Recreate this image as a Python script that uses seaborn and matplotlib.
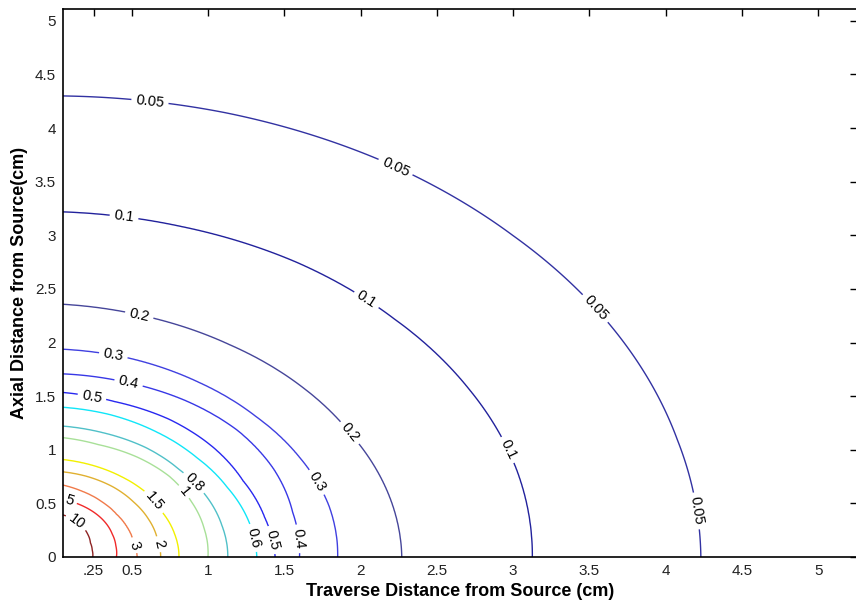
import numpy as np
import matplotlib
matplotlib.use("Agg")
import matplotlib.pyplot as plt
import seaborn as sns

# Isodose levels (relative dose) and the radius (cm) of each isodose line,
# sampled at polar angles measured from the transverse axis.
dose_levels = [10, 5, 3, 2, 1.5, 1, 0.8, 0.6, 0.5, 0.4, 0.3, 0.2, 0.1, 0.05]
angles_deg = [0, 15, 30, 45, 60, 75, 90]

r_10 = [0.245, 0.25, 0.265, 0.30, 0.34, 0.38, 0.41]
r_5 = [0.40, 0.41, 0.43, 0.46, 0.49, 0.52, 0.555]
r_3 = [0.535, 0.53, 0.545, 0.565, 0.60, 0.64, 0.685]
r_2 = [0.69, 0.69, 0.705, 0.725, 0.755, 0.78, 0.80]
r_1_5 = [0.81, 0.81, 0.815, 0.845, 0.865, 0.89, 0.915]
r_1 = [1.00, 1.01, 1.03, 1.06, 1.075, 1.085, 1.12]
r_0_8 = [1.13, 1.13, 1.14, 1.15, 1.18, 1.20, 1.225]
r_0_6 = [1.32, 1.31, 1.30, 1.31, 1.34, 1.375, 1.40]
r_0_5 = [1.44, 1.42, 1.42, 1.455, 1.485, 1.50, 1.54]
r_0_4 = [1.60, 1.61, 1.65, 1.68, 1.69, 1.695, 1.71]
r_0_3 = [1.85, 1.855, 1.85, 1.855, 1.88, 1.915, 1.94]
r_0_2 = [2.27, 2.26, 2.25, 2.265, 2.285, 2.32, 2.36]
r_0_1 = [3.125, 3.13, 3.13, 3.14, 3.17, 3.19, 3.22]
r_0_05 = [4.23, 4.22, 4.23, 4.24, 4.27, 4.29, 4.30]

iso_radii = [r_10, r_5, r_3, r_2, r_1_5, r_1, r_0_8, r_0_6, r_0_5,
             r_0_4, r_0_3, r_0_2, r_0_1, r_0_05]

x_ticks = [0.25, 0.5, 1, 1.5, 2, 2.5, 3, 3.5, 4, 4.5, 5]
x_ticklabels = [".25", "0.5", "1", "1.5", "2", "2.5", "3", "3.5", "4", "4.5", "5"]
y_ticks = [0, 0.5, 1, 1.5, 2, 2.5, 3, 3.5, 4, 4.5, 5]
y_ticklabels = ["0", "0.5", "1", "1.5", "2", "2.5", "3", "3.5", "4", "4.5", "5"]

# line colour of each isodose level (same order as dose_levels)
level_colors = ["#8E2424", "#F02A2A", "#F07A4A", "#E0B030", "#F2F000",
                "#A8E098", "#50C0C8", "#10E6F8", "#2828F0", "#3838E6",
                "#4040E0", "#46469A", "#22229C", "#3232A2"]

# ---- dose grid built from the isodose radii --------------------------------
xg = np.linspace(0.0, 5.3, 531)
yg = np.linspace(0.0, 5.2, 521)
X, Y = np.meshgrid(xg, yg)
Rr = np.hypot(X, Y)
Th = np.degrees(np.arctan2(Y, X))

R = np.stack([np.interp(Th, angles_deg, rad) for rad in iso_radii])
logL = np.log(np.asarray(dose_levels, dtype=float))
K = len(dose_levels)
idx = np.clip((R < Rr[None]).sum(axis=0), 1, K - 1)
R_lo = np.take_along_axis(R, (idx - 1)[None], 0)[0]
R_hi = np.take_along_axis(R, idx[None], 0)[0]
L_lo = logL[idx - 1]
L_hi = logL[idx]
t = (Rr - R_lo) / (R_hi - R_lo)
Z = np.exp(L_lo + t * (L_hi - L_lo))

# ---- figure -----------------------------------------------------------------
sns.set_theme(style="white")
plt.rcParams["font.family"] = ["Liberation Sans", "DejaVu Sans"]

fig = plt.figure(figsize=(8.56, 6.06), dpi=100)
ax = fig.add_axes([63 / 856, 49 / 606, 793.5 / 856, 548 / 606])

order = np.argsort(dose_levels)
levels_up = [dose_levels[i] for i in order]
colors_up = [level_colors[i] for i in order]
cs = ax.contour(X, Y, Z, levels=levels_up, colors=colors_up, linewidths=1.0)

# inline labels, placed along each isodose line
label_spots = {
    0.05: [(0.62, 4.25), (2.22, 3.61), (3.52, 2.30), (4.16, 0.42)],
    0.1: [(0.45, 3.16), (2.03, 2.38), (2.99, 1.02)],
    0.2: [(0.55, 2.25), (1.92, 1.14)],
    0.3: [(0.38, 1.87), (1.70, 0.69)],
    0.4: [(0.47, 1.59), (1.57, 0.17)],
    0.5: [(0.24, 1.48), (1.41, 0.16)],
    0.6: [(1.28, 0.17)],
    0.8: [(0.89, 0.67)],
    1: [(0.83, 0.59)],
    1.5: [(0.63, 0.485)],
    2: [(0.64, 0.11)],
    3: [(0.51, 0.11)],
    5: [(0.09, 0.52)],
    10: [(0.125, 0.30)],
}
# snap every spot onto its own isodose line so the label lands on that level
paths = cs.get_paths()
snapped = []
for lv, spots in label_spots.items():
    verts = paths[levels_up.index(lv)].vertices
    for sx, sy in spots:
        d = (verts[:, 0] - sx) ** 2 + ((verts[:, 1] - sy) * 0.7) ** 2
        snapped.append(tuple(verts[np.argmin(d)]))

texts = ax.clabel(cs, manual=snapped, inline=True, inline_spacing=4,
                  fmt="%g", fontsize=10.5, colors="black")
for tx in texts:
    rot = tx.get_rotation() % 360
    if 45 < rot < 135:
        tx.set_rotation(rot + 180)

ax.set_xlim(0.05, 5.25)
ax.set_ylim(0, 5.11)
ax.set_xticks(x_ticks)
ax.set_xticklabels(x_ticklabels)
ax.set_yticks(y_ticks)
ax.set_yticklabels(y_ticklabels)
ax.tick_params(direction="in", top=True, right=True, length=5, width=1,
               color="black", labelcolor="#222222", labelsize=11, pad=5)
for sp in ax.spines.values():
    sp.set_visible(True)
    sp.set_color("black")
    sp.set_linewidth(1.2)

ax.set_xlabel("Traverse Distance from Source (cm)", fontsize=13,
              fontweight="bold", color="black", labelpad=4)
ax.set_ylabel("Axial Distance from Source(cm)", fontsize=13,
              fontweight="bold", color="black", labelpad=5)

fig.savefig("out.png", dpi=100, facecolor="white")
